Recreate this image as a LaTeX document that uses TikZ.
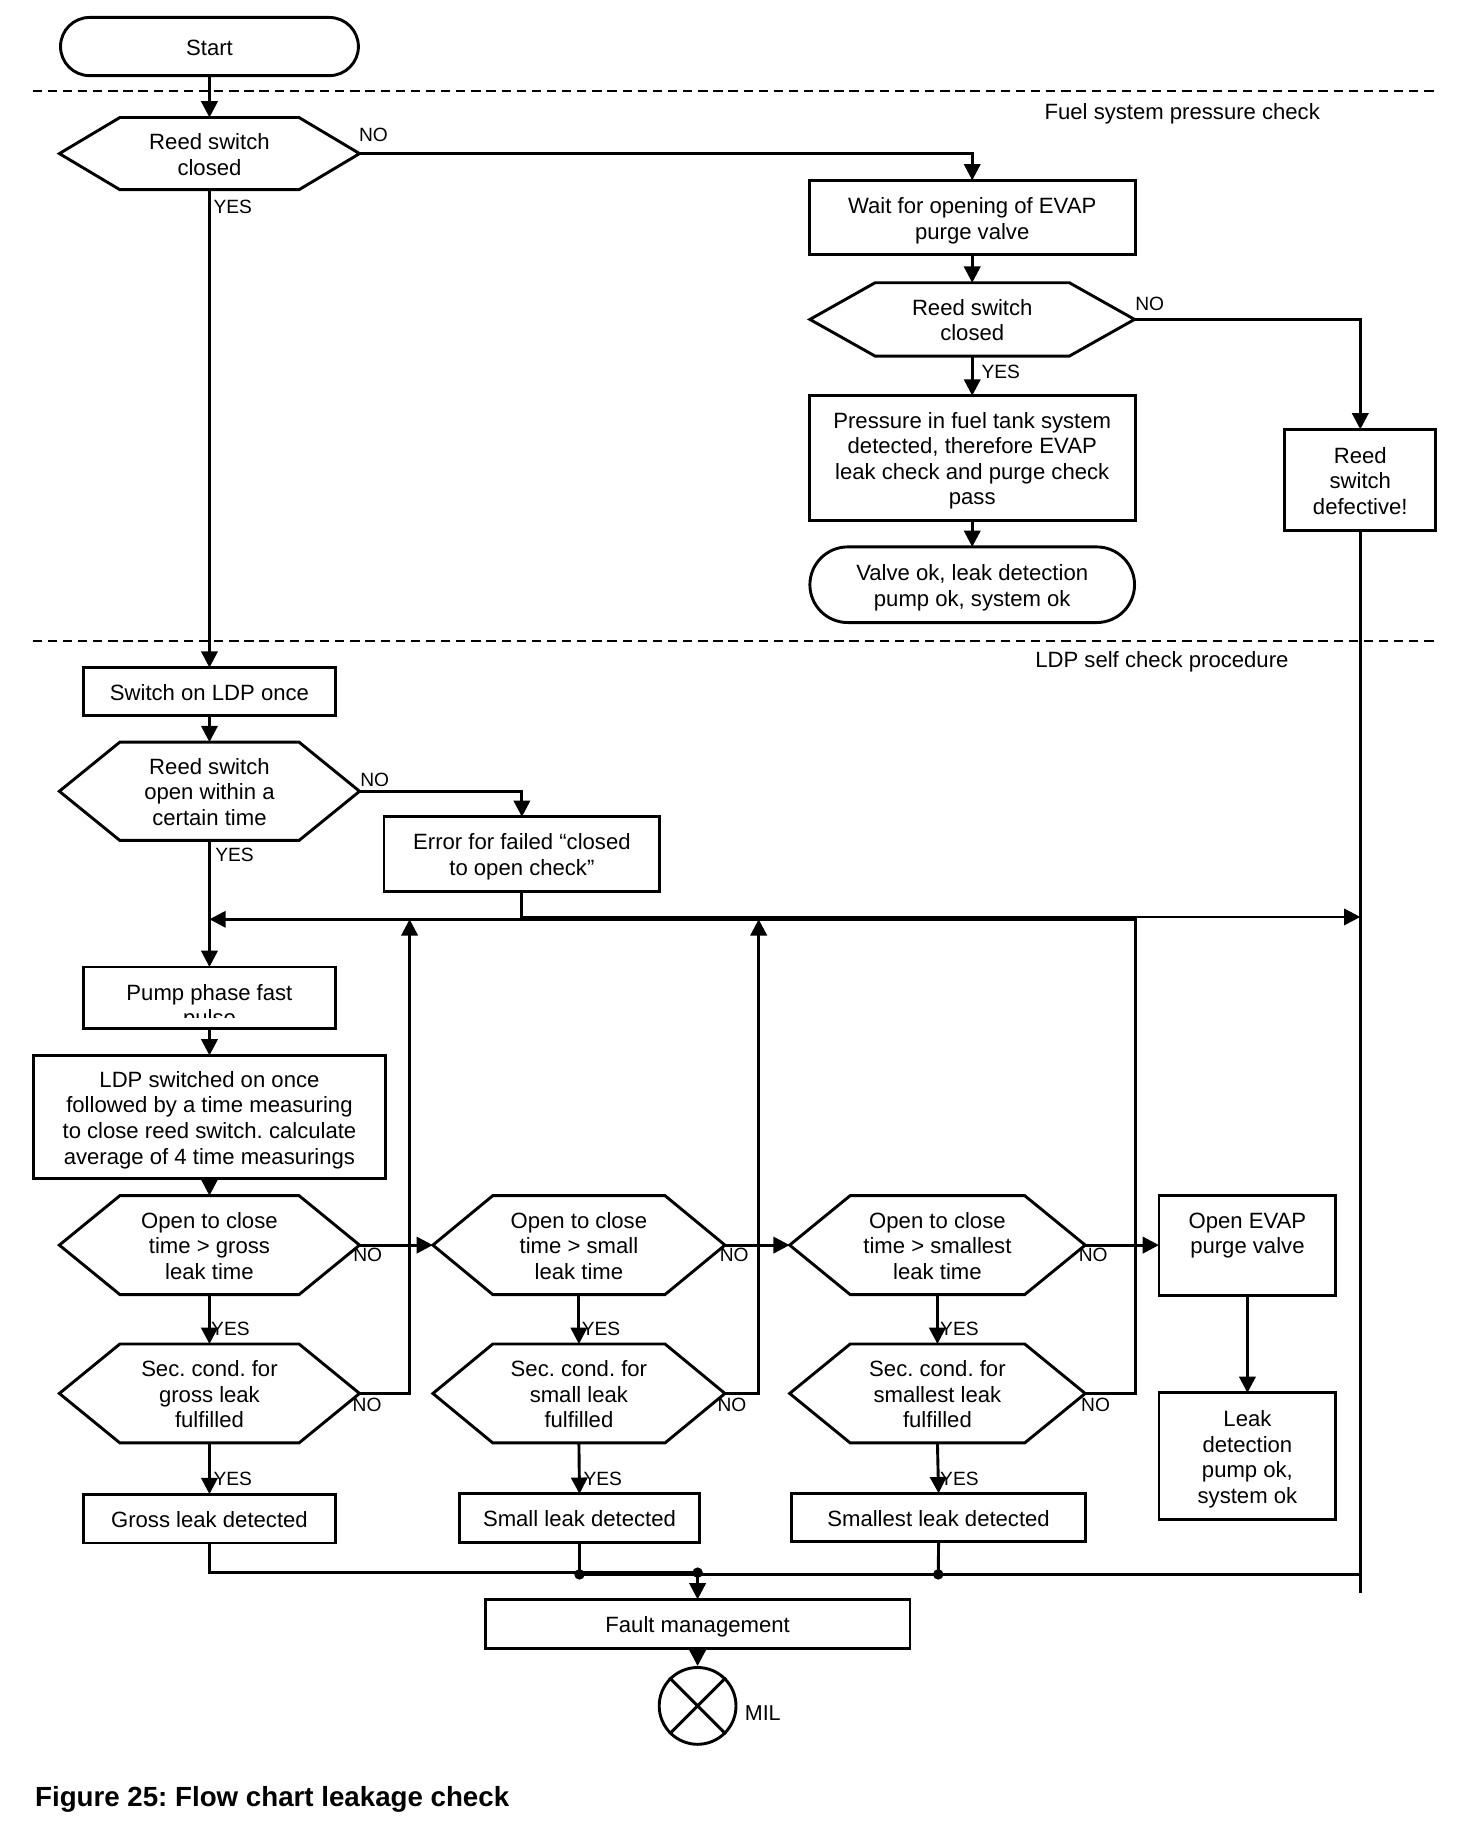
\documentclass[tikz,border=0pt]{standalone}
\usepackage{fontspec}
\setmainfont{Liberation Sans}
\usetikzlibrary{arrows.meta,shapes.misc}
\frenchspacing
\newcommand\bodyfont{\fontsize{19}{22}\selectfont}
\newcommand\lblfont{\fontsize{16.5}{19}\selectfont}
\newcommand\tx[1]{\raisebox{-3pt}[\height][\depth]{\begin{tabular}{@{}c@{}}#1\end{tabular}}}
\newcommand\hexnode[7]{%
  \node[hexbox, minimum width=#4, minimum height=#5] (#1) at (#2,#3) {\tx{#7}};
  \draw[ln] (#1.west) -- ([xshift=#6]#1.north west) -- ([xshift=-#6]#1.north east)
    -- (#1.east) -- ([xshift=-#6]#1.south east) -- ([xshift=#6]#1.south west) -- cycle;
}
\begin{document}
\begin{tikzpicture}[x=1pt,y=-1pt,
  ln/.style={line width=2.5pt},
  arr/.style={ln,-{Triangle[length=14pt,width=14pt]}},
  box/.style={draw,ln,inner sep=0pt,outer sep=0pt,font=\bodyfont},
  term/.style={box,rounded rectangle},
  hexbox/.style={inner sep=0pt,outer sep=0pt,font=\bodyfont},
  lbl/.style={inner sep=0pt,font=\lblfont},
  sect/.style={inner sep=0pt,font=\bodyfont},
  dashline/.style={line width=1.6pt,dash pattern=on 8pt off 5pt},
  dot/.style={circle,fill,inner sep=0pt,minimum size=9pt}
]
\fill[white] (0,0) rectangle (1265,1567.5);
\useasboundingbox (0,0) rectangle (1265,1567.5);

% section separators
\coordinate (s1a) at (28,78);   \coordinate (s1b) at (1234,78);
\coordinate (s2a) at (28,551);  \coordinate (s2b) at (1234,551);
\draw[dashline] (s1a) -- (s1b);
\draw[dashline] (s2a) -- (s2b);
\node[sect] (sec1) at (1016,98) {Fuel system pressure check};
\node[sect] (sec2) at (998.5,569) {LDP self check procedure};

% upper part
\node[term, minimum width=256, minimum height=50] (start) at (180,40) {\tx{Start}};
\hexnode{d1}{180}{132}{258}{62}{52}{Reed switch\\closed}
\node[box, minimum width=280, minimum height=64] (wait) at (835.5,187) {\tx{Wait for opening of EVAP\\purge valve}};
\hexnode{d2}{835.5}{274.5}{279}{63}{56}{Reed switch\\closed}
\node[box, minimum width=280, minimum height=107] (press) at (835.5,393.5)
  {\tx{Pressure in fuel tank system\\detected, therefore EVAP\\leak check and purge check\\pass}};
\node[term, minimum width=279, minimum height=65] (valve) at (835.5,502.5) {\tx{Valve ok, leak detection\\pump ok, system ok}};
\node[box, minimum width=130, minimum height=87] (reed) at (1169,412.5) {\tx{Reed\\switch\\defective!}};

% LDP self check
\node[box, minimum width=216, minimum height=41.5] (swon) at (180,594.5) {\tx{Switch on LDP once}};
\hexnode{d3}{180}{680}{258}{84.5}{52}{Reed switch\\open within a\\certain time}
\node[box, minimum width=237, minimum height=64] (err) at (448.5,734) {\tx{Error for failed “closed\\to open check”}};
\node[box, minimum width=216, minimum height=53,
  path picture={\clip ([yshift=-1pt]path picture bounding box.north west) rectangle ([yshift=10pt]path picture bounding box.south east);
    \node[font=\bodyfont,inner sep=0pt] at ([yshift=-5.5pt]path picture bounding box.center) {\tx{Pump phase fast\\pulse}};}]
  (pump) at (180,857.5) {};
\node[box, minimum width=302, minimum height=106] (ldp) at (180,960)
  {\tx{LDP switched on once\\followed by a time measuring\\to close reed switch. calculate\\average of 4 time measurings}};

\hexnode{d4}{180}{1070}{258}{85}{52}{Open to close\\time > gross\\leak time}
\hexnode{d5}{497.5}{1070}{251}{85}{51.5}{Open to close\\time > small\\leak time}
\hexnode{d6}{805.6}{1070}{254}{85}{52}{Open to close\\time > smallest\\leak time}
\node[box, minimum width=152, minimum height=86] (evap) at (1072,1070) {\tx{Open EVAP\\purge valve\\\mbox{}}};

\hexnode{d7}{180}{1197.5}{258}{85}{52}{Sec. cond. for\\gross leak\\fulfilled}
\hexnode{d8}{497.5}{1197.5}{251}{85}{51.5}{Sec. cond. for\\small leak\\fulfilled}
\hexnode{d9}{805.6}{1197.5}{254}{85}{52}{Sec. cond. for\\smallest leak\\fulfilled}
\node[box, minimum width=152, minimum height=109] (leak) at (1072,1251.5) {\tx{Leak\\detection\\pump ok,\\system ok}};

\node[box, minimum width=216, minimum height=42] (gross) at (180,1305) {\tx{Gross leak detected}};
\node[box, minimum width=206.5, minimum height=41.5] (small) at (498,1304.5) {\tx{Small leak detected}};
\node[box, minimum width=253, minimum height=41.5] (smallest) at (806.6,1304) {\tx{Smallest leak detected}};

\node[box, minimum width=365, minimum height=42] (fm) at (599.5,1395.5) {\tx{Fault management}};
\node[draw, ln, circle, inner sep=0pt, minimum size=66] (mil) at (599.5,1466) {};
\draw[ln] (mil.north west) -- (mil.south east);
\draw[ln] (mil.north east) -- (mil.south west);
\node[inner sep=0pt, font=\fontsize{18.5}{21}\selectfont] (mill) at (655.5,1472) {MIL};

% coordinates for junctions
\coordinate (j1) at (352,790);
\coordinate (j2) at (652,790);
\coordinate (j3) at (976,790);
\coordinate (loopL) at (180,790);
\coordinate (errR) at (1169,788);
\coordinate (rend) at (1169,1369);
\coordinate (rj) at (1169,1353);
\coordinate (bs) at (498,1353);
\coordinate (jm) at (599.5,1351.5);
\coordinate (bss) at (806.3,1353);

% connectors upper
\draw[arr] (start) -- (d1);
\draw[arr] (d1.east) -| (wait.north);
\draw[arr] (d1.south) -- (swon.north);
\draw[arr] (wait) -- (d2);
\draw[arr] (d2.east) -| (reed.north);
\draw[arr] (d2.south) -- (press.north);
\draw[arr] (press) -- (valve);
\draw[ln] (reed.south) -- (rend);

% connectors LDP
\draw[arr] (swon) -- (d3);
\draw[arr] (d3.east) -| (err.north);
\draw[arr] (d3.south) -- (pump.north);
\draw[arr] (err.south) |- (errR);
\draw[arr] (pump) -- (ldp);
\draw[arr] (ldp.south) -- (d4.north);
\draw[arr] (d4.east) -- (d5.west);
\draw[arr] (d5.east) -- (d6.west);
\draw[arr] (d6.east) -- (evap.west);
\draw[arr] (d4.south) -- (d7.north);
\draw[arr] (d5.south) -- (d8.north);
\draw[arr] (d6.south) -- (d9.north);
\draw[arr] (evap) -- (leak);
\draw[arr] (d7.east) -| (j1);
\draw[arr] (d8.east) -| (j2);
\draw[arr] (d9.east) -| (j3) -- (loopL);
\draw[arr] (d7.south) -- (gross.north);
\draw[arr] (d8.south) -- (small.north);
\draw[arr] (d9.south) -- (smallest.north);

% bottom collection
\draw[ln] (gross.south) |- (jm);
\draw[ln] (rj) -- (bs);
\draw[ln] (small.south) -- (bs);
\draw[ln] (smallest.south) -- (bss);
\draw[arr] (jm) -- (fm.north);
\draw[arr] (fm) -- (mil);
\node[dot] (dt1) at (bs) {};
\node[dot] (dt2) at (jm) {};
\node[dot] (dt3) at (bss) {};

% labels
\node[lbl] (l1) at (321,115.5) {NO};
\node[lbl] (l2) at (200,177.5) {YES};
\node[lbl] (l3) at (988,261.5) {NO};
\node[lbl] (l4) at (860,319.5) {YES};
\node[lbl] (l5) at (322,670) {NO};
\node[lbl] (l6) at (201.5,734.5) {YES};
\node[lbl] (l7) at (316,1078) {NO};
\node[lbl] (l8) at (631,1078) {NO};
\node[lbl] (l9) at (939.5,1078) {NO};
\node[lbl] (l10) at (198,1142) {YES};
\node[lbl] (l11) at (516.5,1142) {YES};
\node[lbl] (l12) at (824.5,1142) {YES};
\node[lbl] (l13) at (315.5,1207) {NO};
\node[lbl] (l14) at (629,1207) {NO};
\node[lbl] (l15) at (941.5,1207) {NO};
\node[lbl] (l16) at (200,1271) {YES};
\node[lbl] (l17) at (518,1271) {YES};
\node[lbl] (l18) at (824.5,1271) {YES};

% caption
\node[anchor=base west, inner sep=0pt, font=\bfseries\fontsize{23.8}{28}\selectfont] (cap) at (30,1552.6) {Figure 25: Flow chart leakage check};
\end{tikzpicture}
\end{document}
